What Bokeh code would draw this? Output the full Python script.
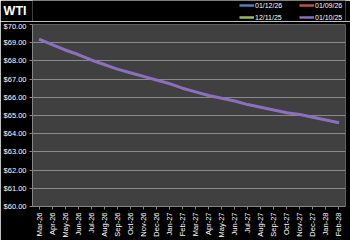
import math
from bokeh.plotting import figure
from bokeh.layouts import column
from bokeh.models import (FactorRange, Range1d, NumeralTickFormatter, FixedTicker,
                          Legend, LegendItem, LinearAxis, ColumnDataSource)
from bokeh.embed import file_html
from bokeh.resources import INLINE

months = ["Mar-26", "Apr-26", "May-26", "Jun-26", "Jul-26", "Aug-26", "Sep-26", "Oct-26",
          "Nov-26", "Dec-26", "Jan-27", "Feb-27", "Mar-27", "Apr-27", "May-27", "Jun-27",
          "Jul-27", "Aug-27", "Sep-27", "Oct-27", "Nov-27", "Dec-27", "Jan-28", "Feb-28"]
series_names = ["01/12/26", "01/09/26", "12/11/25", "01/10/25"]
series_colors = ["#4f81bd", "#c0504d", "#9bbb59", "#8b71bd"]
# the first three curves lie below the $60 floor of the axis: no readable values
s_011226 = [float("nan")]
s_010926 = [float("nan")]
s_121125 = [float("nan")]
s_011025 = [69.2, 68.9, 68.6, 68.35, 68.05, 67.8, 67.55, 67.35, 67.15, 66.95, 66.75, 66.5,
            66.3, 66.1, 65.95, 65.8, 65.6, 65.45, 65.3, 65.15, 65.05, 64.9, 64.75, 64.6]
series_values = [s_011226, s_010926, s_121125, s_011025]
y_ticks = [60, 61, 62, 63, 64, 65, 66, 67, 68, 69, 70]
title_text = "WTI"

FONT = "Liberation Sans"
HEAD_H = 21

sources = [ColumnDataSource(dict(x=months[:len(v)], y=v)) for v in series_values]

# ---- header: title + legend ----
head = figure(width=350, height=HEAD_H, output_backend="svg", toolbar_location=None,
              x_range=FactorRange(*months, range_padding=0), y_range=Range1d(0, HEAD_H),
              x_axis_location=None, y_axis_location=None,
              min_border_left=0, min_border_right=0, min_border_top=0, min_border_bottom=0)
head.background_fill_color = "#000000"
head.border_fill_color = "#000000"
head.outline_line_color = None
head.xgrid.grid_line_color = None
head.ygrid.grid_line_color = None

items = []
for name, color, src in zip(series_names, series_colors, sources):
    r = head.line("x", "y", source=src, line_color=color, line_width=2.5)
    items.append(LegendItem(label=name, renderers=[r]))

legend = Legend(items=items, ncols=2, orientation="horizontal",
                location=(207, 0), label_text_color="#ffffff",
                label_text_font=FONT, label_text_font_size="7px",
                glyph_width=15, glyph_height=8, label_standoff=1, label_height=8,
                label_width=40, spacing=4, padding=0, margin=0,
                background_fill_alpha=0, border_line_color=None)
head.add_layout(legend, "center")

title_axis = LinearAxis(ticker=FixedTicker(ticks=[]), axis_label=title_text,
                        axis_label_orientation="horizontal", axis_label_standoff=6,
                        axis_label_text_color="#ffffff", axis_label_text_font=FONT,
                        axis_label_text_font_style="bold", axis_label_text_font_size="12.5px",
                        axis_line_color=None, major_tick_line_color=None,
                        minor_tick_line_color=None)
head.add_layout(title_axis, "left")

# ---- main chart ----
p = figure(width=350, height=240 - HEAD_H, output_backend="svg", toolbar_location=None,
           x_range=FactorRange(*months, range_padding=0), y_range=Range1d(60, 70),
           min_border_left=31, min_border_right=5, min_border_top=3, min_border_bottom=31)
p.background_fill_color = "#404040"
p.border_fill_color = "#000000"
p.outline_line_color = None

for color, src in zip(series_colors, sources):
    p.line("x", "y", source=src, line_color=color, line_width=3)

p.xgrid.grid_line_color = None
p.ygrid.grid_line_color = "#8a8a8a"
p.ygrid.grid_line_width = 1

p.yaxis.ticker = FixedTicker(ticks=y_ticks)
p.yaxis.formatter = NumeralTickFormatter(format="$0.00")
for ax in (p.xaxis[0], p.yaxis[0]):
    ax.axis_line_color = "#868686"
    ax.major_tick_line_color = "#868686"
    ax.minor_tick_line_color = None
    ax.major_tick_in = 0
    ax.major_tick_out = 3
    ax.major_label_text_color = "#ffffff"
    ax.major_label_text_font = FONT
    ax.major_label_text_font_size = "7.5px"
    ax.major_label_standoff = 3
p.xaxis.major_label_orientation = math.pi / 2

layout = column(head, p, spacing=0)
open("out.html", "w").write(file_html(layout, INLINE))
